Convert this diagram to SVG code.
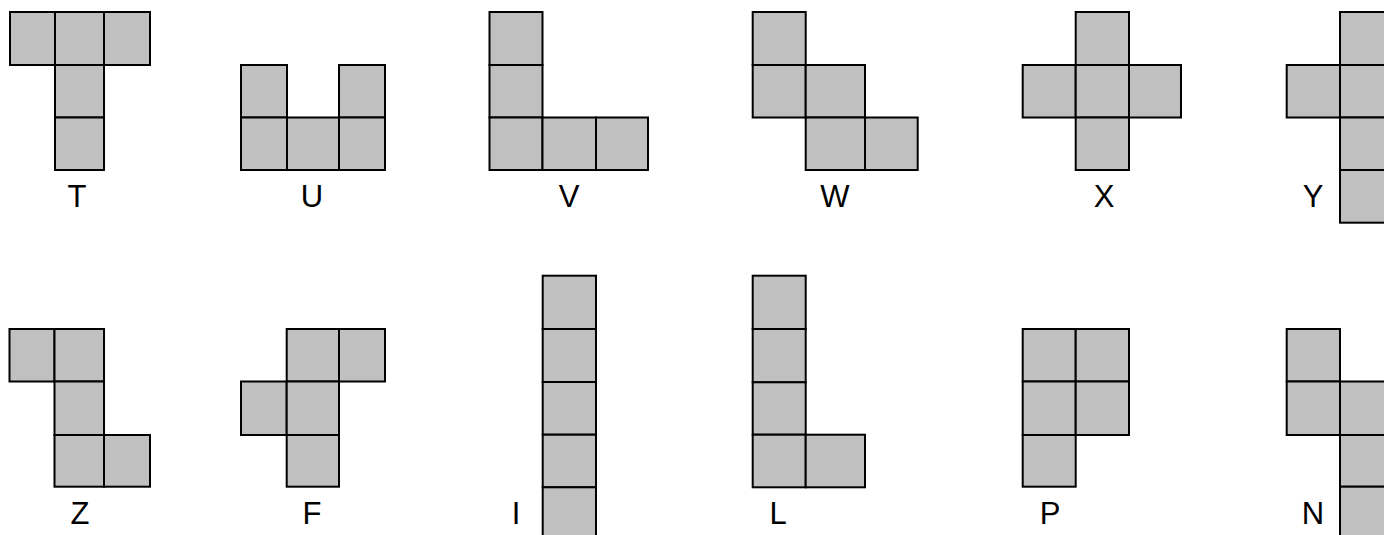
<svg xmlns="http://www.w3.org/2000/svg" width="1384" height="535" viewBox="0 0 1384 535">
<style>
.c{fill:#c0c0c0;stroke:#000;stroke-width:2}
.l{font-family:"Liberation Sans",Arial,sans-serif;font-size:31px;fill:#000;text-anchor:middle}
</style>
<rect width="1384" height="535" fill="#fff"/>
<g id="T">
<rect class="c" x="10" y="12" width="45" height="53"/>
<rect class="c" x="55" y="12" width="49" height="53"/>
<rect class="c" x="104" y="12" width="46" height="53"/>
<rect class="c" x="55" y="65" width="49" height="52.5"/>
<rect class="c" x="55" y="117.5" width="49" height="52.5"/>
<text class="l" x="77" y="207">T</text>
</g>
<g id="U">
<rect class="c" x="241" y="65" width="46" height="52.5"/>
<rect class="c" x="339" y="65" width="46" height="52.5"/>
<rect class="c" x="241" y="117.5" width="46" height="52.5"/>
<rect class="c" x="287" y="117.5" width="52" height="52.5"/>
<rect class="c" x="339" y="117.5" width="46" height="52.5"/>
<text class="l" x="312" y="207">U</text>
</g>
<g id="V">
<rect class="c" x="489.5" y="12" width="53" height="53"/>
<rect class="c" x="489.5" y="65" width="53" height="52.5"/>
<rect class="c" x="489.5" y="117.5" width="53" height="52.5"/>
<rect class="c" x="542.5" y="117.5" width="53.5" height="52.5"/>
<rect class="c" x="596" y="117.5" width="52" height="52.5"/>
<text class="l" x="569" y="207">V</text>
</g>
<g id="W">
<rect class="c" x="752.7" y="12" width="53" height="53"/>
<rect class="c" x="752.7" y="65" width="53" height="52.5"/>
<rect class="c" x="805.7" y="65" width="59.3" height="52.5"/>
<rect class="c" x="805.7" y="117.5" width="59.3" height="52.5"/>
<rect class="c" x="865" y="117.5" width="52.7" height="52.5"/>
<text class="l" x="835" y="207">W</text>
</g>
<g id="X">
<rect class="c" x="1075.7" y="12" width="53.3" height="53"/>
<rect class="c" x="1022.7" y="65" width="53" height="52.5"/>
<rect class="c" x="1075.7" y="65" width="53.3" height="52.5"/>
<rect class="c" x="1129" y="65" width="52" height="52.5"/>
<rect class="c" x="1075.7" y="117.5" width="53.3" height="52.5"/>
<text class="l" x="1104" y="207">X</text>
</g>
<g id="Y">
<rect class="c" x="1340" y="12" width="53" height="53"/>
<rect class="c" x="1286.7" y="65" width="53.3" height="52.5"/>
<rect class="c" x="1340" y="65" width="53" height="52.5"/>
<rect class="c" x="1340" y="117.5" width="53" height="52.5"/>
<rect class="c" x="1340" y="170" width="53" height="52.7"/>
<text class="l" x="1313" y="207">Y</text>
</g>
<g id="Z">
<rect class="c" x="9.5" y="329" width="45" height="52.5"/>
<rect class="c" x="54.5" y="329" width="49.5" height="52.5"/>
<rect class="c" x="54.5" y="381.5" width="49.5" height="53.5"/>
<rect class="c" x="54.5" y="435" width="49.5" height="51.7"/>
<rect class="c" x="104" y="435" width="46" height="51.7"/>
<text class="l" x="80" y="524">Z</text>
</g>
<g id="F">
<rect class="c" x="286.7" y="329" width="52.3" height="52.5"/>
<rect class="c" x="339" y="329" width="46" height="52.5"/>
<rect class="c" x="241" y="381.5" width="45.7" height="53.5"/>
<rect class="c" x="286.7" y="381.5" width="52.3" height="53.5"/>
<rect class="c" x="286.7" y="435" width="52.3" height="51.7"/>
<text class="l" x="312" y="524">F</text>
</g>
<g id="I">
<rect class="c" x="542.7" y="275.7" width="53.3" height="53.3"/>
<rect class="c" x="542.7" y="329" width="53.3" height="53"/>
<rect class="c" x="542.7" y="382" width="53.3" height="52.7"/>
<rect class="c" x="542.7" y="434.7" width="53.3" height="52.6"/>
<rect class="c" x="542.7" y="487.3" width="53.3" height="52.7"/>
<text class="l" x="516" y="524">I</text>
</g>
<g id="L">
<rect class="c" x="752.7" y="275.7" width="53" height="53.3"/>
<rect class="c" x="752.7" y="329" width="53" height="53.3"/>
<rect class="c" x="752.7" y="382.3" width="53" height="52.4"/>
<rect class="c" x="752.7" y="434.7" width="53" height="52.6"/>
<rect class="c" x="805.7" y="434.7" width="59.3" height="52.6"/>
<text class="l" x="778" y="524">L</text>
</g>
<g id="P">
<rect class="c" x="1022.7" y="329" width="53" height="52.5"/>
<rect class="c" x="1075.7" y="329" width="53.3" height="52.5"/>
<rect class="c" x="1022.7" y="381.5" width="53" height="53.5"/>
<rect class="c" x="1075.7" y="381.5" width="53.3" height="53.5"/>
<rect class="c" x="1022.7" y="435" width="53" height="51.7"/>
<text class="l" x="1050" y="524">P</text>
</g>
<g id="N">
<rect class="c" x="1286.7" y="329" width="53.3" height="52.5"/>
<rect class="c" x="1286.7" y="381.5" width="53.3" height="53.5"/>
<rect class="c" x="1340" y="381.5" width="53" height="53.5"/>
<rect class="c" x="1340" y="435" width="53" height="51.7"/>
<rect class="c" x="1340" y="486.7" width="53" height="52.7"/>
<text class="l" x="1313" y="524">N</text>
</g>
</svg>
